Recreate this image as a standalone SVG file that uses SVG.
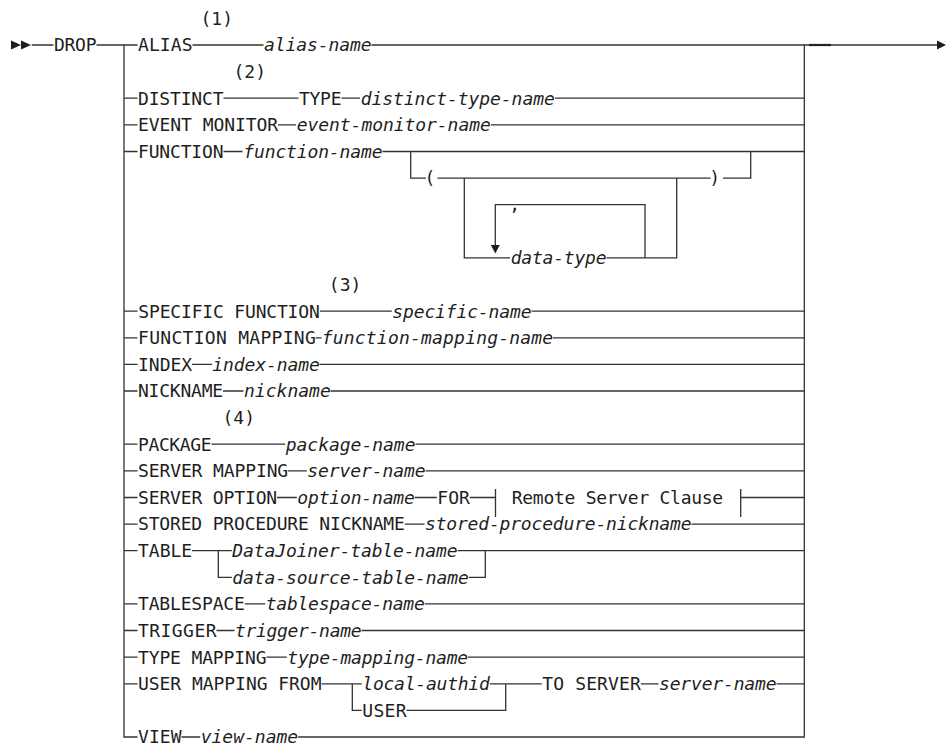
<svg xmlns="http://www.w3.org/2000/svg" width="946" height="746" viewBox="0 0 946 746">
  <style>
    .k { font-family: "DejaVu Sans Mono", "Liberation Mono", monospace; font-size: 18px; fill: #1e1e1e; }
    .v { font-family: "DejaVu Sans Mono", "Liberation Mono", monospace; font-size: 18px; font-style: italic; fill: #1e1e1e; }
    .r { stroke: #333; stroke-width: 1.3; fill: none; }
    .h { stroke: #222; stroke-width: 2.2; fill: none; }
    .a { fill: #1e1e1e; }
  </style>
  <rect width="946" height="746" fill="#fff"/>

  <!-- rails, branches and arrows -->
  <g id="connectors">
    <path class="r" d="
      M31.7 45 H53.5 M96.5 45 H137.5 M192.5 45 H263.5 M371.5 45 H937
      M124 45 V737 H137.5 M804.3 45 V737 H298.2
      M124 98.2 H137.5 M223.5 98.2 H298.5 M341.5 98.2 H360 M555 98.2 H804.3
      M124 124.8 H137.5 M278 124.8 H296 M491 124.8 H804.3
      M124 151.5 H137.5 M223.5 151.5 H242.5 M382.5 151.5 H804.3
      M410.7 151.5 V178.1 H426 M437.5 178.1 H710.5 M723 178.1 H750.7 V151.5
      M464.3 178.1 V257.9 H510 M606.5 257.9 H676.7 V178.1
      M645 257.9 V204.7 H495.3 V245.5
      M124 311.2 H137.5 M320 311.2 H391.8 M531.5 311.2 H804.3
      M124 337.8 H137.5 M315.6 337.8 H321.6 M553 337.8 H804.3
      M124 364.4 H137.5 M192 364.4 H212 M319.5 364.4 H804.3
      M124 391 H137.5 M223 391 H243.5 M330.5 391 H804.3
      M124 444.2 H137.5 M211.5 444.2 H285.2 M415.5 444.2 H804.3
      M124 470.8 H137.5 M288 470.8 H306.8 M425.5 470.8 H804.3
      M124 497.5 H137.5 M277 497.5 H296.8 M414.8 497.5 H436.8 M469.8 497.5 H495.5
      M495.5 489 V517 M740.7 489 V517 M740.7 497.5 H804.3
      M124 524.1 H137.5 M404.8 524.1 H424.5 M691.5 524.1 H804.3
      M124 550.7 H137.5 M192 550.7 H231.8 M457.5 550.7 H804.3
      M218.3 550.7 V577.3 H231.8 M468.8 577.3 H485.3 V550.7
      M124 603.9 H137.5 M244.8 603.9 H265.2 M424.8 603.9 H804.3
      M124 630.5 H137.5 M216.5 630.5 H234.5 M361.5 630.5 H804.3
      M124 657.2 H137.5 M266.5 657.2 H286.8 M468 657.2 H804.3
      M124 683.8 H137.5 M321.5 683.8 H361.8 M489.8 683.8 H541.8 M640.8 683.8 H658.5 M776.5 683.8 H804.3
      M352.3 683.8 V710.4 H361.8 M406.5 710.4 H505.7 V683.8
      M181.5 737 H200.2"/>
    <path class="h" d="M809 45 H831"/>
    <polygon class="a" points="11,40.5 11,49.5 21,45"/>
    <polygon class="a" points="21,40.5 21,49.5 31,45"/>
    <polygon class="a" points="937,40.5 937,49.5 946,45"/>
    <polygon class="a" points="490.8,245 499.8,245 495.3,253.5"/>
  </g>

  <g id="drop"><text class="k" x="54" y="51.3" textLength="42.5" lengthAdjust="spacing">DROP</text></g>

  <g id="opt-alias">
    <text class="k" x="200.5" y="24.6">(1)</text>
    <text class="k" x="138" y="51.3" textLength="54.5" lengthAdjust="spacing">ALIAS</text>
    <text class="v" x="264" y="51.3" textLength="107.5" lengthAdjust="spacing">alias-name</text>
  </g>

  <g id="opt-distinct-type">
    <text class="k" x="233.5" y="77.8">(2)</text>
    <text class="k" x="138" y="104.5" textLength="85.5" lengthAdjust="spacing">DISTINCT</text>
    <text class="k" x="299" y="104.5" textLength="42.5" lengthAdjust="spacing">TYPE</text>
    <text class="v" x="360.7" y="104.5" textLength="194.1" lengthAdjust="spacing">distinct-type-name</text>
  </g>

  <g id="opt-event-monitor">
    <text class="k" x="138" y="131.1" textLength="140.2" lengthAdjust="spacing">EVENT MONITOR</text>
    <text class="v" x="296.7" y="131.1" textLength="194.1" lengthAdjust="spacing">event-monitor-name</text>
  </g>

  <g id="opt-function">
    <text class="k" x="138" y="157.8" textLength="85.5" lengthAdjust="spacing">FUNCTION</text>
    <text class="v" x="243.3" y="157.8" textLength="139.2" lengthAdjust="spacing">function-name</text>
    <text class="k" x="424.5" y="184.4">(</text>
    <text class="k" x="709.3" y="184.4">)</text>
    <text class="k" x="509.3" y="211">,</text>
    <text class="v" x="510.7" y="264.2" textLength="95.8" lengthAdjust="spacing">data-type</text>
  </g>

  <g id="opt-specific-function">
    <text class="k" x="328.8" y="290.8">(3)</text>
    <text class="k" x="138.3" y="317.5" textLength="181.5" lengthAdjust="spacing">SPECIFIC FUNCTION</text>
    <text class="v" x="392.3" y="317.5" textLength="139.2" lengthAdjust="spacing">specific-name</text>
  </g>

  <g id="opt-function-mapping">
    <text class="k" x="138" y="344.1" textLength="177.8" lengthAdjust="spacing">FUNCTION MAPPING</text>
    <text class="v" x="321.7" y="344.1" textLength="231.5" lengthAdjust="spacing">function-mapping-name</text>
  </g>

  <g id="opt-index">
    <text class="k" x="138" y="370.7" textLength="54.2" lengthAdjust="spacing">INDEX</text>
    <text class="v" x="212.3" y="370.7" textLength="107.5" lengthAdjust="spacing">index-name</text>
  </g>

  <g id="opt-nickname">
    <text class="k" x="138" y="397.3" textLength="85.2" lengthAdjust="spacing">NICKNAME</text>
    <text class="v" x="244" y="397.3" textLength="86.8" lengthAdjust="spacing">nickname</text>
  </g>

  <g id="opt-package">
    <text class="k" x="222.5" y="423.9">(4)</text>
    <text class="k" x="138" y="450.5" textLength="73.5" lengthAdjust="spacing">PACKAGE</text>
    <text class="v" x="285.7" y="450.5" textLength="129.8" lengthAdjust="spacing">package-name</text>
  </g>

  <g id="opt-server-mapping">
    <text class="k" x="138" y="477.1" textLength="150.2" lengthAdjust="spacing">SERVER MAPPING</text>
    <text class="v" x="307.3" y="477.1" textLength="118.2" lengthAdjust="spacing">server-name</text>
  </g>

  <g id="opt-server-option">
    <text class="k" x="138" y="503.8" textLength="139.2" lengthAdjust="spacing">SERVER OPTION</text>
    <text class="v" x="297.3" y="503.8" textLength="117.5" lengthAdjust="spacing">option-name</text>
    <text class="k" x="437.3" y="503.8" textLength="32.5" lengthAdjust="spacing">FOR</text>
    <text class="k" x="511.7" y="503.8" textLength="211.5" lengthAdjust="spacing">Remote Server Clause</text>
  </g>

  <g id="opt-stored-procedure-nickname">
    <text class="k" x="138" y="530.4" textLength="266.8" lengthAdjust="spacing">STORED PROCEDURE NICKNAME</text>
    <text class="v" x="425" y="530.4" textLength="266.5" lengthAdjust="spacing">stored-procedure-nickname</text>
  </g>

  <g id="opt-table">
    <text class="k" x="138" y="557" textLength="54.2" lengthAdjust="spacing">TABLE</text>
    <text class="v" x="232.3" y="557" textLength="225.2" lengthAdjust="spacing">DataJoiner-table-name</text>
    <text class="v" x="232.3" y="583.6" textLength="236.5" lengthAdjust="spacing">data-source-table-name</text>
  </g>

  <g id="opt-tablespace">
    <text class="k" x="138" y="610.2" textLength="106.8" lengthAdjust="spacing">TABLESPACE</text>
    <text class="v" x="265.7" y="610.2" textLength="159.1" lengthAdjust="spacing">tablespace-name</text>
  </g>

  <g id="opt-trigger">
    <text class="k" x="138" y="636.8" textLength="78.5" lengthAdjust="spacing">TRIGGER</text>
    <text class="v" x="235" y="636.8" textLength="126.5" lengthAdjust="spacing">trigger-name</text>
  </g>

  <g id="opt-type-mapping">
    <text class="k" x="138" y="663.5" textLength="128.5" lengthAdjust="spacing">TYPE MAPPING</text>
    <text class="v" x="287.3" y="663.5" textLength="180.9" lengthAdjust="spacing">type-mapping-name</text>
  </g>

  <g id="opt-user-mapping">
    <text class="k" x="138" y="690.1" textLength="183.5" lengthAdjust="spacing">USER MAPPING FROM</text>
    <text class="v" x="362.3" y="690.1" textLength="127.5" lengthAdjust="spacing">local-authid</text>
    <text class="k" x="362.3" y="716.7" textLength="44.2" lengthAdjust="spacing">USER</text>
    <text class="k" x="542.3" y="690.1" textLength="98.5" lengthAdjust="spacing">TO SERVER</text>
    <text class="v" x="659" y="690.1" textLength="117.5" lengthAdjust="spacing">server-name</text>
  </g>

  <g id="opt-view">
    <text class="k" x="138" y="743.3" textLength="43.5" lengthAdjust="spacing">VIEW</text>
    <text class="v" x="200.7" y="743.3" textLength="97.5" lengthAdjust="spacing">view-name</text>
  </g>
</svg>
